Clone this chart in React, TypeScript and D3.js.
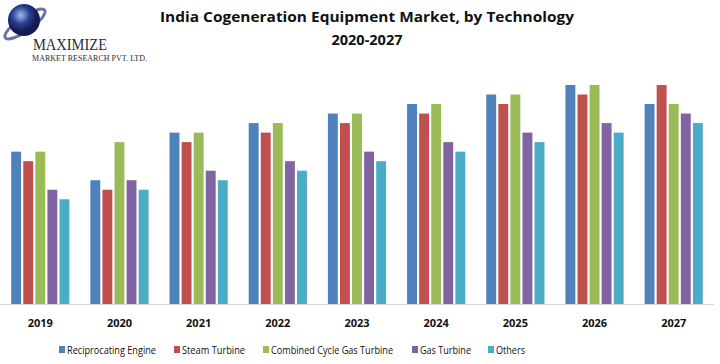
import React, { useEffect, useRef } from "react";
import * as d3 from "d3";

const years = ["2019", "2020", "2021", "2022", "2023", "2024", "2025", "2026", "2027"];
const seriesNames = ["Reciprocating Engine", "Steam Turbine", "Combined Cycle Gas Turbine", "Gas Turbine", "Others"];
const colors = ["#4F81BD", "#C0504D", "#9BBB59", "#8064A2", "#4BACC6"];

const reciprocating = [16, 13, 18, 19, 20, 21, 22, 23, 21];
const steam = [15, 12, 17, 18, 19, 20, 21, 22, 23];
const combined = [16, 17, 18, 19, 20, 21, 22, 23, 21];
const gasTurbine = [12, 13, 14, 15, 16, 17, 18, 19, 20];
const others = [11, 12, 13, 14, 15, 16, 17, 18, 19];

const W = 720;
const H = 364;

export default function App() {
  const ref = useRef<SVGSVGElement>(null);

  useEffect(() => {
    const svg = d3.select(ref.current);
    svg.selectAll("*").remove();
    const values = [reciprocating, steam, combined, gasTurbine, others];

    const x = d3.scaleBand().domain(years).range([0.5, 713.5]).paddingInner(0.265).paddingOuter(0.135);
    const xs = d3.scaleBand().domain(seriesNames).range([0, x.bandwidth()]).paddingInner(0.18);
    const y = d3.scaleLinear().domain([0, 23]).range([304, 85]);

    // logo
    const defs = svg.append("defs");
    const grad = defs.append("radialGradient").attr("id", "globe").attr("cx", "40%").attr("cy", "35%");
    grad.append("stop").attr("offset", "0%").attr("stop-color", "#9cc0ee");
    grad.append("stop").attr("offset", "55%").attr("stop-color", "#2a3f93");
    grad.append("stop").attr("offset", "100%").attr("stop-color", "#141a55");
    svg.append("ellipse").attr("cx", 25).attr("cy", 24).attr("rx", 24).attr("ry", 7)
      .attr("fill", "none").attr("stroke", "#6873a8").attr("stroke-width", 3)
      .attr("transform", "rotate(-35 25 24)");
    svg.append("circle").attr("cx", 24).attr("cy", 20).attr("r", 16).attr("fill", "url(#globe)");
    svg.append("text").attr("x", 33).attr("y", 50).text("MAXIMIZE")
      .attr("font-family", "Liberation Serif").attr("font-size", 17).attr("fill", "#2b2b40")
      .attr("textLength", 74).attr("lengthAdjust", "spacingAndGlyphs");
    svg.append("text").attr("x", 32).attr("y", 61).text("MARKET RESEARCH PVT. LTD.")
      .attr("font-family", "Liberation Serif").attr("font-size", 8.5).attr("fill", "#2b2b40")
      .attr("textLength", 115).attr("lengthAdjust", "spacingAndGlyphs");

    // title
    const tf = "'Open Sans', 'Liberation Sans', sans-serif";
    svg.append("text").attr("x", 367).attr("y", 22).attr("text-anchor", "middle")
      .attr("font-family", tf).attr("font-weight", "bold").attr("font-size", 14.5).attr("fill", "#111")
      .attr("textLength", 414).attr("lengthAdjust", "spacingAndGlyphs")
      .text("India Cogeneration Equipment Market, by Technology");
    svg.append("text").attr("x", 367).attr("y", 45).attr("text-anchor", "middle")
      .attr("font-family", tf).attr("font-weight", "bold").attr("font-size", 14.5).attr("fill", "#111")
      .text("2020-2027");

    // bars
    const g = svg.append("g");
    seriesNames.forEach((s, si) => {
      g.selectAll(`rect.s${si}`)
        .data(values[si])
        .enter().append("rect")
        .attr("x", (d, i) => (x(years[i]) as number) + (xs(s) as number))
        .attr("y", d => y(d))
        .attr("width", xs.bandwidth())
        .attr("height", d => y(0) - y(d))
        .attr("fill", colors[si]);
    });

    // axis
    svg.append("line").attr("x1", 0).attr("x2", 714).attr("y1", 304.5).attr("y2", 304.5)
      .attr("stroke", "#d9d9d9").attr("stroke-width", 1);
    svg.selectAll("text.yr").data(years).enter().append("text")
      .attr("x", d => (x(d) as number) + x.bandwidth() / 2)
      .attr("y", 327).attr("text-anchor", "middle")
      .attr("font-family", tf).attr("font-weight", "bold").attr("font-size", 11).attr("fill", "#111")
      .text(d => d);

    // legend
    const legendX = [59, 174, 263, 412, 488];
    const legendW = [89, 63, 122, 51, 29];
    const lg = svg.append("g");
    seriesNames.forEach((s, i) => {
      lg.append("rect").attr("x", legendX[i]).attr("y", 346).attr("width", 6).attr("height", 7).attr("fill", colors[i]);
      lg.append("text").attr("x", legendX[i] + 8).attr("y", 354)
        .attr("font-family", tf).attr("font-size", 10.5).attr("fill", "#111")
        .attr("textLength", legendW[i]).attr("lengthAdjust", "spacingAndGlyphs").text(s);
    });
  }, []);

  return (
    <svg ref={ref} width={W} height={H} style={{ position: "absolute", left: 0, top: 0, background: "#fff" }} />
  );
}
